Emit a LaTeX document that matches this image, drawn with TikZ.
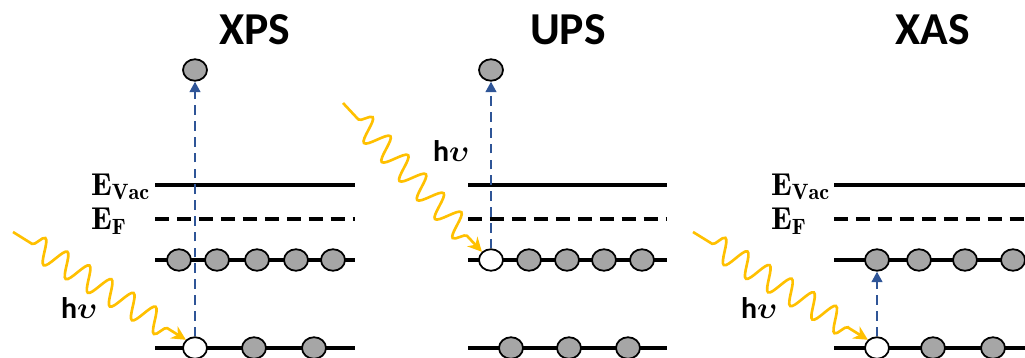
\documentclass[tikz,border=0pt]{standalone}
\usepackage{amsmath}
\usepackage{bm}
\usepackage{fontspec}
\newfontfamily\calibri{Carlito}
\usepackage{xcolor}
\usepackage{tikz}
\usetikzlibrary{shapes.geometric, arrows.meta, decorations.pathmorphing}

\definecolor{photonyellow}{HTML}{FFC000}
\definecolor{exciteblue}{HTML}{2F5597}
\definecolor{electrongray}{HTML}{A6A6A6}

\begin{document}
\begin{tikzpicture}[
        x=0.02cm, y=-0.02cm,
        level/.style={line width=2.2pt},
        fermi/.style={level, dash pattern=on 8pt off 4.5pt},
        electron/.style={
            ellipse,
            draw=black,
            line width=1pt,
            fill=electrongray,
            minimum width=0.48cm,
            minimum height=0.43cm,
            inner sep=0pt
        },
        hole/.style={electron, fill=white},
        title/.style={font=\calibri\bfseries\fontsize{26}{30}\selectfont},
        energy/.style={anchor=base west, font=\fontsize{18}{21}\selectfont},
        photonlabel/.style={anchor=base west, font=\calibri\bfseries\fontsize{17}{20}\selectfont},
        photon/.style={
            draw=photonyellow,
            line width=1.5pt,
            -{Stealth[length=8pt, width=8pt]},
            decorate,
            decoration={snake, segment length=0.52cm, amplitude=0.24cm,
                pre length=0.45cm, post length=0.4cm}
        },
        excitation/.style={draw=exciteblue, line width=1.5pt,
            dash pattern=on 5.5pt off 3.5pt, -{Triangle[length=6pt, width=6pt]}}
    ]

    \useasboundingbox (0,0) rectangle (1025,358);
    \clip (0,0) rectangle (1025,358);

    % XPS
    \node (xpstitle) [title] at (255,30) {XPS};
    \draw [level] (155,185) -- (355,185);
    \draw [fermi] (155,219) -- (355,219);
    \draw [level] (155,260) -- (355,260);
    \draw [level] (155,348) -- (355,348);
    \node (xvac) [energy] at (85,195) {$\mathbf{E_{Vac}}$};
    \node (xfermi) [energy] at (85,230) {$\mathbf{E_{F}}$};
    \foreach \x in {179,217,257,296,333}
        \node [electron] at (\x,260) {};
    \node (xhole) [hole] at (195,348) {};
    \node (xcore1) [electron] at (254,348) {};
    \node (xcore2) [electron] at (314,348) {};
    \node (xtop) [electron] at (195,70) {};
    \coordinate (xsrc) at (13,232);
    \node (xhv) [photonlabel] at (55,318) {h$\bm{\upsilon}$};
    \draw [excitation] (xhole) -- (xtop);
    \draw [photon] (xsrc) -- (xhole.north west);

    % UPS
    \node (upstitle) [title] at (568,30) {UPS};
    \draw [level] (468,185) -- (667,185);
    \draw [fermi] (468,219) -- (667,219);
    \draw [level] (468,260) -- (667,260);
    \draw [level] (468,348) -- (667,348);
    \foreach \x in {529,567,604,642}
        \node [electron] at (\x,260) {};
    \foreach \x in {511,569,628}
        \node [electron] at (\x,348) {};
    \node (uhole) [hole] at (491,260) {};
    \node (utop) [electron] at (491,70) {};
    \coordinate (usrc) at (343,103);
    \node (uhv) [photonlabel] at (427,162) {h$\bm{\upsilon}$};
    \draw [excitation] (uhole) -- (utop);
    \draw [photon] (usrc) -- (uhole.north west);

    % XAS
    \node (xastitle) [title] at (933,30) {XAS};
    \draw [level] (834,185) -- (1040,185);
    \draw [fermi] (834,219) -- (1040,219);
    \draw [level] (834,260) -- (1040,260);
    \draw [level] (834,348) -- (1040,348);
    \node (avac) [energy] at (765,195) {$\mathbf{E_{Vac}}$};
    \node (afermi) [energy] at (765,230) {$\mathbf{E_{F}}$};
    \node (avalence) [electron] at (877,260) {};
    \foreach \x in {919,965,1013}
        \node [electron] at (\x,260) {};
    \node (ahole) [hole] at (877,348) {};
    \node (acore1) [electron] at (933,348) {};
    \node (acore2) [electron] at (993,348) {};
    \coordinate (asrc) at (693,232);
    \node (ahv) [photonlabel] at (735,318) {h$\bm{\upsilon}$};
    \draw [excitation] (ahole) -- (avalence);
    \draw [photon] (asrc) -- (ahole.north west);

\end{tikzpicture}
\end{document}
